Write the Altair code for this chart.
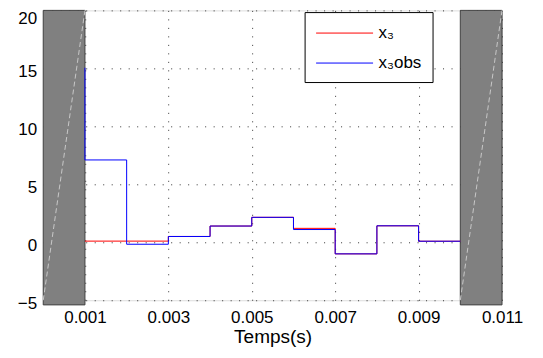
import altair as alt
import pandas as pd

# ---- data ----
t = [0.001, 0.002, 0.003, 0.004, 0.005, 0.006, 0.007, 0.008, 0.009, 0.010]
x3 = [0.1, 0.1, 0.5, 1.4, 2.15, 1.2, -1.0, 1.42, 0.09, 0.09]
x3obs = [7.1, -0.17, 0.5, 1.4, 2.15, 1.1, -1.0, 1.42, 0.09, 0.09]
x3obs_before = 15.05  # value of x3obs just before t = 0.001
series_names = ["x₃", "x₃obs"]
series_colors = ["#ff0000", "#0000ff"]
x_ticks = [0.001, 0.003, 0.005, 0.007, 0.009, 0.011]
y_ticks = [-5, 0, 5, 10, 15, 20]
band_start = [0.000, 0.010]
band_end = [0.001, 0.011]
band_bottom = [-5.4, -5.4]
band_top = [20, 20]
diag_bottom = [-5, -5]

FONT = "Liberation Sans"

red_df = pd.DataFrame({"t": t, "v": x3, "serie": series_names[0]})
blue_df = pd.DataFrame({"t": [t[0]] + t, "v": [x3obs_before] + x3obs,
                        "serie": series_names[1]})
lines_df = pd.concat([red_df, blue_df], ignore_index=True)
lines_df["i"] = range(len(lines_df))

bands_df = pd.DataFrame({"x0": band_start, "x1": band_end,
                         "y0": band_bottom, "y1": band_top, "yd": diag_bottom})

xscale = alt.Scale(domain=[0, 0.011], nice=False, zero=False)
yscale = alt.Scale(domain=[-5, 20], nice=False, zero=False)

xaxis = alt.Axis(values=x_ticks, format=".3f", labelFont=FONT, labelFontSize=17,
                 labelColor="black", grid=True, gridDash=[1, 7.5], gridColor="#333333",
                 domain=False, ticks=False, tickSize=0, labelPadding=9.5,
                 labelFlush=False, labelOverlap=False,
                 title="Temps(s)", titleFont=FONT, titleFontSize=19,
                 titleFontWeight="normal", titleColor="black", titlePadding=1.5)
yaxis = alt.Axis(values=y_ticks, labelFont=FONT, labelFontSize=17, labelColor="black",
                 grid=True, gridDash=[1, 7.5], gridColor="#333333", domain=False,
                 ticks=False, tickSize=0, labelPadding=6.5,
                 labelOffset={"condition": {"test": "datum.value == 20", "value": 8},
                              "value": 3.5},
                 labelFlush=False, labelOverlap=False, title=None)

bands = alt.Chart(bands_df).mark_rect(fill="#808080", stroke="#404040", strokeWidth=1).encode(
    x=alt.X("x0:Q", scale=xscale, axis=xaxis), x2="x1:Q",
    y=alt.Y("y0:Q", scale=yscale, axis=yaxis), y2="y1:Q"
)

diag = alt.Chart(bands_df).mark_rule(color="#c8c8c8", strokeWidth=1, strokeDash=[5, 3]).encode(
    x="x0:Q", x2="x1:Q", y="yd:Q", y2="y1:Q"
)

base = alt.Chart(lines_df).mark_line(interpolate="step-after", strokeWidth=1).encode(
    x=alt.X("t:Q", scale=xscale, axis=xaxis),
    y=alt.Y("v:Q", scale=yscale, axis=yaxis),
    color=alt.Color("serie:N",
                    scale=alt.Scale(domain=series_names, range=series_colors),
                    legend=alt.Legend(title=None, orient="none", legendX=261.5, legendY=1.7,
                                      fillColor="white", strokeColor="black", padding=11,
                                      symbolType="M-1,0H5", symbolSize=361,
                                      symbolStrokeWidth=1, labelFont=FONT,
                                      labelFontSize=17, labelColor="black",
                                      labelOffset=43, rowPadding=12)),
    order="i:Q",
)
red = base.transform_filter(alt.datum.serie == series_names[0])
blue = base.transform_filter(alt.datum.serie == series_names[1])

chart = alt.layer(bands, diag, red, blue).properties(
    width=459, height=290,
    autosize=alt.AutoSizeParams(type="none"),
    padding={"left": 35.25, "top": 2.3, "right": 33, "bottom": 49.7},
).configure_view(stroke="black", strokeWidth=1).configure(background="white")

chart.save("out.html", embed_options={"renderer": "svg", "actions": False})
